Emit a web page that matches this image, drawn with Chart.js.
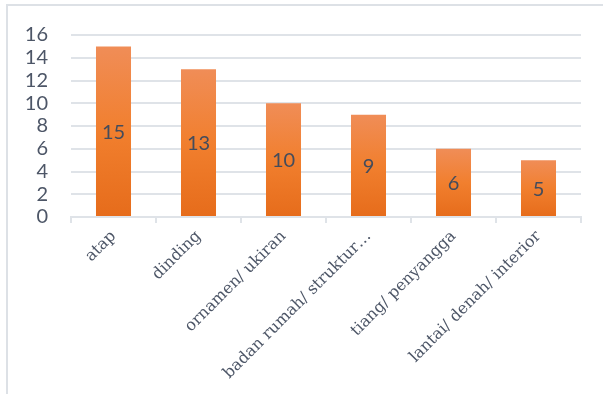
<!DOCTYPE html>
<html>
<head>
<meta charset="utf-8">
<script src="https://cdn.jsdelivr.net/npm/chart.js@4"></script>
<style>
html,body{margin:0;padding:0;background:#fff;}
#wrap{width:603px;height:394px;position:relative;}
</style>
</head>
<body>
<div id="wrap"><canvas id="c" width="603" height="394"></canvas></div>
<script>
const categories = ["atap", "dinding", "ornamen/ ukiran", "badan rumah/ struktur…", "tiang/ penyangga", "lantai/ denah/ interior"];
const values = [15, 13, 10, 9, 6, 5];
const yTicks = [0, 2, 4, 6, 8, 10, 12, 14, 16];

const gridColor = '#dfe3e8';
const textColor = '#4d5667';

const frame = {
  id: 'frame',
  beforeDraw(chart) {
    const c = chart.ctx;
    c.save();
    c.fillStyle = '#fff';
    c.fillRect(0, 0, chart.width, chart.height);
    c.strokeStyle = '#dde1e6';
    c.lineWidth = 2;
    c.beginPath();
    c.moveTo(7, 400);
    c.lineTo(7, 5);
    c.lineTo(610, 5);
    c.stroke();
    c.restore();
  }
};

const labelsPlugin = {
  id: 'barLabels',
  afterDatasetsDraw(chart) {
    const c = chart.ctx;
    const meta = chart.getDatasetMeta(0);
    c.save();
    c.font = '20px Lato';
    c.fillStyle = '#444c5c';
    c.textAlign = 'center';
    c.textBaseline = 'middle';
    meta.data.forEach((bar, i) => {
      const y = (bar.y + bar.base) / 2;
      c.fillText(String(values[i]), bar.x, y + 1);
    });
    c.restore();
  }
};

function barGradient(context) {
  const chart = context.chart;
  const area = chart.chartArea;
  if (!area || context.type !== 'data') return '#ED7D31';
  const ys = chart.scales.y;
  const top = ys.getPixelForValue(context.parsed ? context.parsed.y : values[context.dataIndex]);
  const bottom = ys.getPixelForValue(0);
  const g = chart.ctx.createLinearGradient(0, top, 0, bottom);
  g.addColorStop(0, '#f08d57');
  g.addColorStop(0.5, '#f17f2e');
  g.addColorStop(1, '#e66c1b');
  return g;
}

new Chart(document.getElementById('c'), {
  type: 'bar',
  data: {
    labels: categories,
    datasets: [{
      data: values,
      backgroundColor: barGradient,
      borderWidth: 0,
      categoryPercentage: 1,
      barPercentage: 0.412
    }]
  },
  options: {
    responsive: false,
    animation: false,
    devicePixelRatio: 1,
    layout: { padding: { left: 0, right: 22, top: 35, bottom: 0 } },
    plugins: { legend: { display: false }, tooltip: { enabled: false } },
    scales: {
      y: {
        min: 0, max: 16,
        afterBuildTicks(scale) { scale.ticks = yTicks.map(v => ({ value: v })); },
        afterFit(scale) { scale.width = 71; },
        border: { display: false },
        grid: { color: gridColor, lineWidth: 2, drawTicks: false },
        ticks: { autoSkip: false, padding: 23, color: textColor, font: { family: 'Lato', size: 20 } }
      },
      x: {
        afterFit(scale) { scale.height = 394 - 217; },
        border: { display: true, color: gridColor, width: 2 },
        grid: { offset: true, drawOnChartArea: false, drawTicks: true, tickLength: 6, color: gridColor, lineWidth: 2 },
        ticks: {
          autoSkip: false, maxRotation: 45, minRotation: 45, padding: 4,
          color: textColor, font: { family: 'DejaVu Serif', size: 16 }
        }
      }
    }
  },
  plugins: [frame, labelsPlugin]
});
</script>
</body>
</html>
